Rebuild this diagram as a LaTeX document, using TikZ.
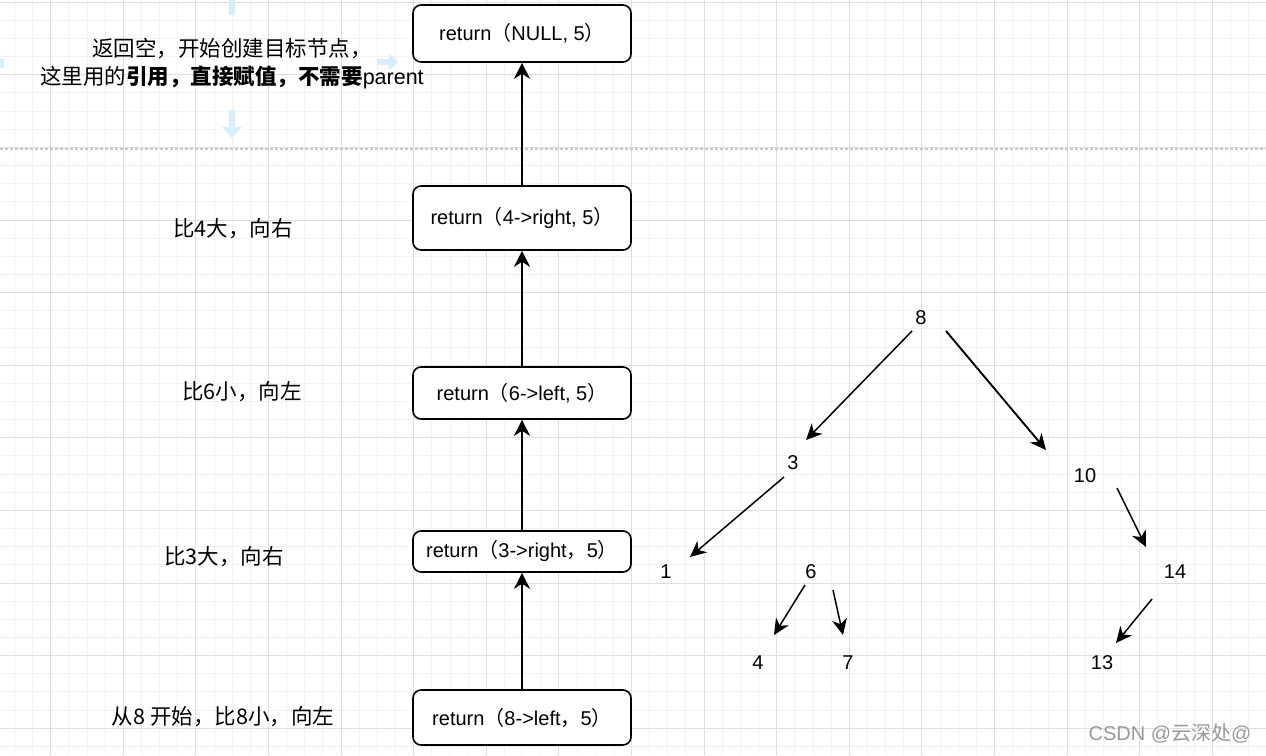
\documentclass[tikz,border=0pt]{standalone}
\usepackage{fontspec}
\setmainfont{Liberation Sans}
\newfontfamily\cjk{Noto Sans CJK SC}
\usetikzlibrary{arrows.meta}
\newcommand{\zh}[1]{{\cjk #1}}
\definecolor{minorgrid}{RGB}{242,242,242}
\definecolor{majorgrid}{RGB}{222,222,222}
\definecolor{hoverblue}{RGB}{214,238,250}

\begin{document}
\begin{tikzpicture}[x=1pt,y=-1pt,
   font=\fontsize{20}{28}\selectfont,
   retbox/.style={draw,line width=1.6pt,rounded corners=8pt,fill=white,
                  minimum width=218pt,inner sep=0pt},
   call/.style={line width=1.8pt,-{Stealth[length=16pt,width=16pt,inset=5pt]}},
   link/.style={line width=1.5pt,-{Stealth[length=16pt,width=15pt,inset=5pt]}},
   hover/.style={hoverblue,line width=6pt},
   note/.style={inner sep=0pt,align=center,font=\fontsize{21.5}{28}\selectfont}]
   \useasboundingbox (0,0) rectangle (1266,755);
   \fill[white] (0,0) rectangle (1266,755);

   % background grid
   \foreach \i in {0,...,70} \draw[minorgrid,line width=1pt] ({-3.75+18.15*\i},0) -- ++(0,755);
   \foreach \j in {0,...,41} \draw[minorgrid,line width=1pt] (0,{2.2+18.15*\j}) -- ++(1266,0);
   \foreach \i in {0,...,16} \draw[majorgrid,line width=1pt] ({50.7+72.6*\i},0) -- ++(0,755);
   \foreach \j in {0,...,10} \draw[majorgrid,line width=1pt] (0,{2.2+72.6*\j}) -- ++(1266,0);
   \draw[black!22,line width=1.2pt,dash pattern=on 3pt off 2pt] (0,149) -- (1266,149);

   % hover arrows
   \draw[hover] (232,0) -- (232,15);
   \draw[hover,-{Triangle[length=11pt,width=19pt]}] (232,110) -- (232,138);
   \draw[hover,-{Triangle[length=9pt,width=16pt]}] (377,62) -- (398,62);
   \fill[hoverblue] (0,59) rectangle (4,68);

   % call stack
   \node[retbox,minimum height=57pt] (b1) at (522,33.5) {return\zh{（}NULL, 5\zh{）}};
   \node[retbox,minimum height=64pt] (b2) at (522,218) {return\zh{（}4->right, 5\zh{）}};
   \node[retbox,minimum height=52pt] (b3) at (522,393) {return\zh{（}6->left, 5\zh{）}};
   \node[retbox,minimum height=41pt] (b4) at (522,551.5) {return\zh{（}3->right\zh{，}5\zh{）}};
   \node[retbox,minimum height=55pt] (b5) at (522,717.5) {return\zh{（}8->left\zh{，}5\zh{）}};

   \draw[call] (b5) -- (b4);
   \draw[call] (b4) -- (b3);
   \draw[call] (b3) -- (b2);
   \draw[call] (b2) -- (b1);

   % notes
   \node[note] (n1) at (232,64) {\zh{返回空，开始创建目标节点，}\\\zh{这里用的{\bfseries 引用，直接赋值，不需要}}parent};
   \node[note] (n2) at (233,229) {\zh{比4大，向右}};
   \node[note] (n3) at (242,392) {\zh{比6小，向左}};
   \node[note] (n4) at (224,557) {\zh{比3大，向右}};
   \node[note] (n5) at (223,717) {\zh{从8 开始，比8小，向左}};

   % tree
   \node (t8) at (921,318) {8};
   \node (t3) at (793,463) {3};
   \node (t10) at (1085,476) {10};
   \node (t1) at (666,572) {1};
   \node (t6) at (811,572) {6};
   \node (t14) at (1175,572) {14};
   \node (t4) at (758,663) {4};
   \node (t7) at (848,663) {7};
   \node (t13) at (1102,663) {13};

   \coordinate (s83) at (912,331);   \coordinate (e83) at (806,440);
   \coordinate (s810) at (946,331);  \coordinate (e810) at (1046,450);
   \coordinate (s31) at (784,477);   \coordinate (e31) at (690,557);
   \coordinate (s1014) at (1117,488); \coordinate (e1014) at (1146,547);
   \coordinate (s64) at (805,585);   \coordinate (e64) at (774,635);
   \coordinate (s67) at (833,590);   \coordinate (e67) at (843,635);
   \coordinate (s1413) at (1152,599); \coordinate (e1413) at (1116,643);

   \draw[link] (s83) -- (e83);
   \draw[link,line width=1.9pt] (s810) -- (e810);
   \draw[link] (s31) -- (e31);
   \draw[link] (s1014) -- (e1014);
   \draw[link] (s64) -- (e64);
   \draw[link] (s67) -- (e67);
   \draw[link] (s1413) -- (e1413);

   % watermark
   \node[black!40] (wm) at (1170,733) {CSDN @\zh{云深处}@};
\end{tikzpicture}
\end{document}
